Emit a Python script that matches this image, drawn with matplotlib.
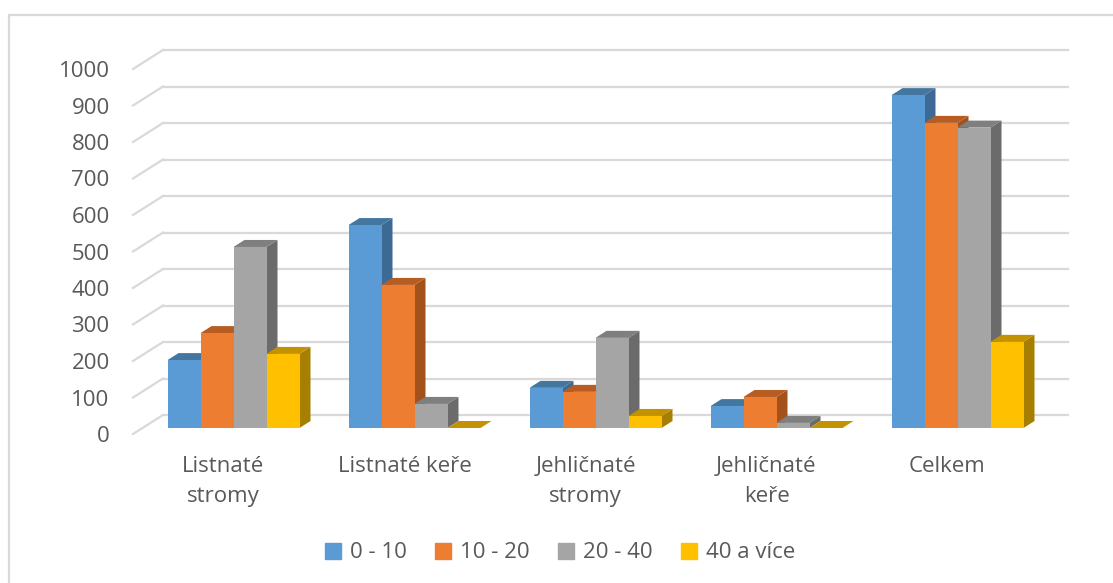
import matplotlib.pyplot as plt
import matplotlib.patches as mpatches
from matplotlib.transforms import ScaledTranslation
import numpy as np

categories = ['Listnaté\nstromy', 'Listnaté keře', 'Jehličnaté\nstromy', 'Jehličnaté\nkeře', 'Celkem']
series_names = ['0 - 10', '10 - 20', '20 - 40', '40 a více']
vals_0_10 = [186, 556, 110, 60, 912]
vals_10_20 = [260, 392, 99, 85, 836]
vals_20_40 = [496, 66, 247, 14, 823]
vals_40_plus = [203, 0, 33, 0, 236]
yticks = list(range(0, 1001, 100))

front_colors = ['#5B9BD5', '#ED7D31', '#A5A5A5', '#FFC000']
side_colors = ['#3D6A94', '#A4521C', '#6B6B6B', '#A67E00']
top_colors = ['#44779F', '#B85D22', '#7F7F7F', '#C29200']
grid_color = '#D9D9D9'
text_color = '#595959'

plt.rcParams['font.family'] = ['Open Sans', 'DejaVu Sans']

W, H = 1113, 583
fig = plt.figure(figsize=(W / 100, H / 100), dpi=100)
# axes frame = plane of the bar front faces
ax = fig.add_axes([143 / W, 155 / H, 905 / W, 365 / H])
ax.set_xlim(-0.5, 4.5)
ax.set_ylim(0, 1000)
for s in ax.spines.values():
    s.set_visible(False)

px_x = 905 / 5        # pixels per category
px_y = 365 / 1000     # pixels per value unit

def cx(px):
    return px / px_x

def vy(px):
    return px / px_y

# depth offsets in pixels
bar_dx, bar_dy = 11, 7       # depth of a bar
back_dx, back_dy = 20, 13    # bar plane -> back wall
front_dx, front_dy = 10, 6   # front edge -> bar plane

# back wall gridlines and side wall diagonals
for v in yticks:
    ax.plot([-0.5 + cx(back_dx), 4.5 + cx(back_dx)], [v + vy(back_dy)] * 2,
            color=grid_color, lw=1.6, clip_on=False, zorder=1)
    ax.plot([-0.5 - cx(front_dx), -0.5 + cx(back_dx)],
            [v - vy(front_dy), v + vy(back_dy)],
            color=grid_color, lw=1.6, clip_on=False, zorder=1)

series = [vals_0_10, vals_10_20, vals_20_40, vals_40_plus]
w = cx(33)
x = np.arange(len(categories))
ddx, ddy = cx(bar_dx), vy(bar_dy)

for j, vals in enumerate(series):
    lefts = x + (j - 2) * w
    bars = ax.bar(lefts, vals, w, align='edge', color=front_colors[j],
                  clip_on=False, label=series_names[j])
    for i, (rect, x0, h) in enumerate(zip(bars, lefts, vals)):
        z = 3 + (i * 4 + j) * 0.01
        ax.fill([x0 + w, x0 + w + ddx, x0 + w + ddx, x0 + w],
                [0, ddy, h + ddy, h], color=side_colors[j], lw=0,
                clip_on=False, zorder=z)
        ax.fill([x0, x0 + ddx, x0 + w + ddx, x0 + w],
                [h, h + ddy, h + ddy, h], color=top_colors[j], lw=0,
                clip_on=False, zorder=z + 0.002)
        rect.set_zorder(z + 0.004)

# ticks and labels
ax.set_yticks(yticks)
ax.set_xticks(x, categories)
ax.tick_params(axis='both', length=0, labelsize=16, labelcolor=text_color)
ax.tick_params(axis='y', pad=24)
ax.tick_params(axis='x', pad=20)
for lab in ax.get_yticklabels():
    lab.set_transform(lab.get_transform() + ScaledTranslation(0, -front_dy / 100, fig.dpi_scale_trans))
for lab in ax.get_xticklabels():
    lab.set_transform(lab.get_transform() + ScaledTranslation(-front_dx / 100, 0, fig.dpi_scale_trans))
    lab.set_linespacing(1.55)

handles = [mpatches.Patch(color=c, label=n) for c, n in zip(front_colors, series_names)]
fig.legend(handles=handles, loc='center', bbox_to_anchor=(560 / W, 30 / H), ncol=4,
           frameon=False, fontsize=16, labelcolor=text_color,
           handlelength=0.7, handleheight=0.7, handletextpad=0.4, columnspacing=1.3)

# chart border
fig.add_artist(mpatches.Rectangle((9 / W, -0.1), 1.2, (H - 15) / H + 0.1,
                                  transform=fig.transFigure, fill=False,
                                  ec=grid_color, lw=1.6))

fig.savefig('out.png', dpi=100)
